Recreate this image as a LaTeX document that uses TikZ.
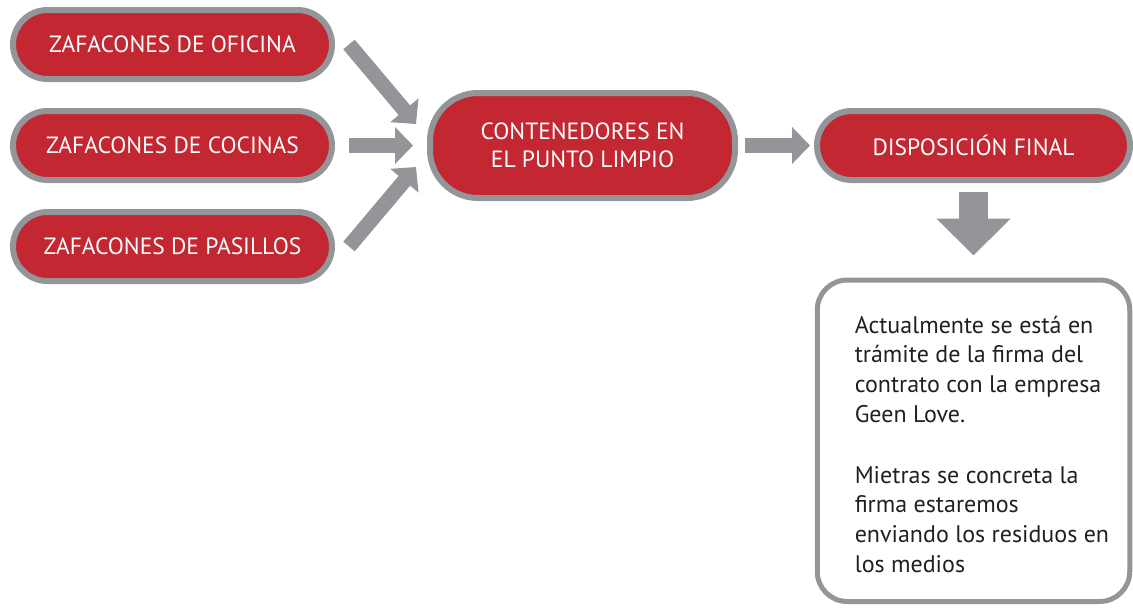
\documentclass[tikz,border=0pt]{standalone}
\usepackage{fontspec}
\setmainfont{PT Sans}
\usetikzlibrary{arrows.meta}
\usetikzlibrary{positioning}
\usetikzlibrary{calc}
\definecolor{rojo}{HTML}{C22732}
\definecolor{gris}{HTML}{939598}
\definecolor{tinta}{HTML}{231F20}

\begin{document}
\begin{tikzpicture}[x=1pt, y=1pt, outer sep=0pt,
    paso/.style={draw=gris, fill=rojo, line width=6pt, rounded corners=34.5pt,
      minimum width=319pt, minimum height=69pt, text=white, align=center,
      font=\fontsize{23.5}{28}\selectfont},
    nota/.style={draw=gris, line width=5pt, rounded corners=30pt,
      minimum width=312.5pt, minimum height=321.5pt},
    notatexto/.style={inner sep=0pt, align=left, text=tinta,
      font=\fontsize{24}{29.7}\selectfont},
    flecha/.style={color=gris, line width=15pt, -{Triangle[width=36pt,length=18pt]}},
    flechota/.style={color=gris, line width=29pt, -{Triangle[width=72pt,length=37pt]}}]
    \useasboundingbox (0,0) rectangle (1133,-608);

    % collection points
    \node[paso] (ofi) at (172.5,-44.5) {ZAFACONES DE OFICINA};
    \node[paso] (coc) [below=32pt of ofi] {ZAFACONES DE COCINAS};
    \node[paso] (pas) [below=32pt of coc] {ZAFACONES DE PASILLOS};

    % storage and final step
    \node[paso, minimum width=305pt, minimum height=105pt, rounded corners=48pt]
      (cont) [right=98pt of coc] {CONTENEDORES EN\\EL PUNTO LIMPIO};
    \node[paso, minimum width=313pt] (disp) [right=82pt of cont] {DISPOSICIÓN FINAL};
    \node[nota] (fin) [below=100pt of disp] {};
    \node[notatexto, anchor=north west] (texto) at ($(fin.north west)+(37.5,-36)$)
      {Actualmente se está en\\trámite de la firma del\\contrato con la empresa\\Geen Love.\\[31pt]
       Mietras se concreta la\\firma estaremos\\enviando los residuos en\\los medios};

    \path[flecha]
    ($(ofi.east)+(17,0)$) edge ($(cont.west)+(-14,21.5)$)
    (coc.east) edge [shorten <=17pt, shorten >=17pt] (cont.west)
    ($(pas.east)+(17,0)$) edge ($(cont.west)+(-14,-21.5)$)
    (cont.east) edge [shorten <=10pt, shorten >=7pt] (disp.west);
    \path[flechota]
    (disp.south) edge [shorten <=12pt, shorten >=24.5pt] (fin.north);
\end{tikzpicture}
\end{document}
